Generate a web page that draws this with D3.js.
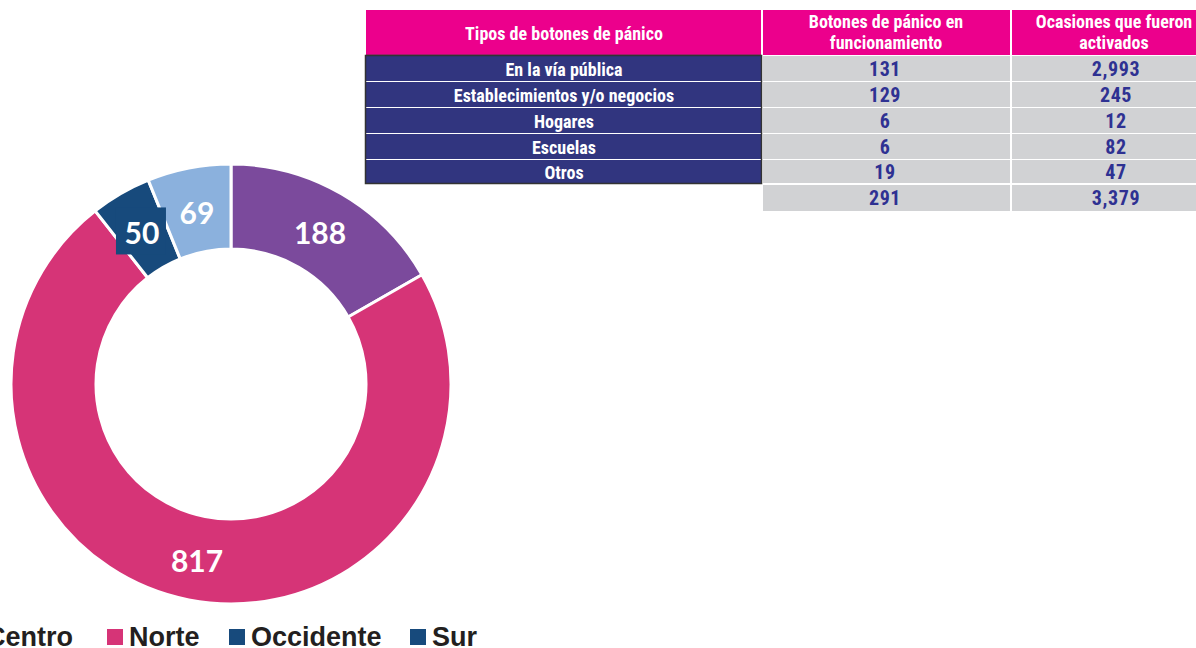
<!DOCTYPE html>
<html>
<head>
<meta charset="utf-8">
<script src="https://cdn.jsdelivr.net/npm/d3@7"></script>
<style>
  html, body { margin: 0; padding: 0; background: #fff; }
  svg { display: block; }
</style>
</head>
<body>
<svg id="chart" width="1196" height="648"></svg>
<script>
// ---- Data ----
const regions = ["Centro", "Norte", "Occidente", "Sur"];
const regionValues = [188, 817, 50, 69];
const sliceColors = ["#7B4A9C", "#D63477", "#174A7C", "#8BB1DD"];
const legendColors = ["#7B4A9C", "#D63477", "#174A7C", "#174A7C"];

const tableHeaders = ["Tipos de botones de pánico", "Botones de pánico en|funcionamiento", "Ocasiones que fueron|activados"];
const tipos = ["En la vía pública", "Establecimientos y/o negocios", "Hogares", "Escuelas", "Otros"];
const enFuncionamiento = [131, 129, 6, 6, 19];
const activados = [2993, 245, 12, 82, 47];
const totalFuncionamiento = 291;
const totalActivados = 3379;

// ---- Setup ----
const svg = d3.select("#chart");
const fmt = d3.format(",");

// ---- Donut ----
const cx = 231, cy = 384, R = 220, r = 135;
const g = svg.append("g").attr("transform", `translate(${cx},${cy})`);
const pie = d3.pie().sort(null).value(d => d.v);
const arcs = pie(regions.map((n, i) => ({ n, v: regionValues[i], i })));
const arc = d3.arc().innerRadius(r).outerRadius(R);
const labelArc = d3.arc().innerRadius((r + R) / 2).outerRadius((r + R) / 2);

g.selectAll("path.slice").data(arcs).join("path")
  .attr("class", "slice")
  .attr("d", arc)
  .attr("fill", d => sliceColors[d.data.i])
  .attr("stroke", "#fff")
  .attr("stroke-width", 3);

// label background box for the small slice (as in reference)
arcs.filter(d => d.data.n === "Occidente").forEach(d => {
  const [x, y] = labelArc.centroid(d);
  g.append("rect")
    .attr("x", x - 26).attr("y", y - 23)
    .attr("width", 50).attr("height", 47)
    .attr("fill", sliceColors[d.data.i]);
});

g.selectAll("text.lbl").data(arcs).join("text")
  .attr("class", "lbl")
  .attr("transform", d => { const [x, y] = labelArc.centroid(d); return `translate(${x},${y + 2})`; })
  .attr("text-anchor", "middle")
  .attr("dominant-baseline", "central")
  .attr("font-family", "Lato, 'Open Sans', sans-serif")
  .attr("font-weight", 700)
  .attr("font-size", 30)
  .attr("fill", "#fff")
  .text(d => d.data.v);

// ---- Legend ----
const legendY = 637;
const legendSquareX = [-36, 107, 229, 410];
const lg = svg.append("g");
regions.forEach((n, i) => {
  lg.append("rect")
    .attr("x", legendSquareX[i]).attr("y", legendY - 8)
    .attr("width", 16).attr("height", 16)
    .attr("fill", legendColors[i]);
  lg.append("text")
    .attr("x", legendSquareX[i] + 22).attr("y", legendY)
    .attr("dominant-baseline", "central")
    .attr("font-family", "'Liberation Sans', Arial, sans-serif")
    .attr("font-weight", 700)
    .attr("font-size", 27)
    .attr("fill", "#231F20")
    .text(n);
});

// ---- Table ----
const colX = [366, 763, 1012, 1210];
const numCenters = [885, 1116];
const headCenters = [564, 886, 1114];
const headTop = 10, headBottom = 55;
const rowTops = [56, 82, 108, 134, 160];
const totalTop = 185, totalBottom = 211;
const condensed = "'Liberation Sans Narrow', 'Roboto Condensed', 'Open Sans', sans-serif";
const tg = svg.append("g");

// header
tableHeaders.forEach((h, j) => {
  tg.append("rect")
    .attr("x", colX[j]).attr("y", headTop)
    .attr("width", colX[j + 1] - colX[j] - (j < 2 ? 2 : 0)).attr("height", headBottom - headTop)
    .attr("fill", "#EC008C");
  const lines = h.split("|");
  const t = tg.append("text")
    .attr("text-anchor", "middle")
    .attr("font-family", condensed)
    .attr("font-stretch", "condensed")
    .attr("font-weight", 700)
    .attr("font-size", 18)
    .attr("fill", "#fff");
  lines.forEach((l, k) => {
    const y = lines.length === 1 ? (headTop + headBottom) / 2 + 7 : headTop + 18 + k * 21;
    t.append("tspan").attr("x", headCenters[j]).attr("y", y).text(l);
  });
});
tg.append("line").attr("x1", colX[0]).attr("x2", colX[1] - 2)
  .attr("y1", headBottom + 0.5).attr("y2", headBottom + 0.5)
  .attr("stroke", "#555").attr("stroke-width", 1.5);

function numText(x, y, v) {
  tg.append("text").attr("x", x).attr("y", y)
    .attr("text-anchor", "middle").attr("font-family", condensed).attr("font-stretch", "condensed")
    .attr("font-weight", 700).attr("font-size", 20).attr("fill", "#2E3192")
    .attr("letter-spacing", 0.6)
    .text(fmt(v));
}

// data rows
tipos.forEach((tipo, i) => {
  const y0 = rowTops[i];
  const h = (i < tipos.length - 1 ? rowTops[i + 1] : 184) - y0 - 1;
  tg.append("rect").attr("x", colX[0]).attr("y", y0).attr("width", colX[1] - colX[0] - 2).attr("height", h).attr("fill", "#31357F");
  tg.append("rect").attr("x", colX[1]).attr("y", y0).attr("width", colX[2] - colX[1] - 2).attr("height", h).attr("fill", "#D1D2D4");
  tg.append("rect").attr("x", colX[2]).attr("y", y0).attr("width", colX[3] - colX[2]).attr("height", h).attr("fill", "#D1D2D4");
  const ty = y0 + h / 2 + 7;
  tg.append("text").attr("x", headCenters[0]).attr("y", ty)
    .attr("text-anchor", "middle").attr("font-family", condensed).attr("font-stretch", "condensed")
    .attr("font-weight", 700).attr("font-size", 18).attr("fill", "#fff").text(tipo);
  numText(numCenters[0], ty, enFuncionamiento[i]);
  numText(numCenters[1], ty, activados[i]);
});
// border around navy column
tg.append("rect").attr("x", colX[0] - 0.5).attr("y", rowTops[0] - 0.5)
  .attr("width", colX[1] - colX[0] - 1).attr("height", 184 - rowTops[0])
  .attr("fill", "none").attr("stroke", "#333").attr("stroke-width", 1.5);

// total row
tg.append("rect").attr("x", colX[1]).attr("y", totalTop).attr("width", colX[2] - colX[1] - 2).attr("height", totalBottom - totalTop).attr("fill", "#D1D2D4");
tg.append("rect").attr("x", colX[2]).attr("y", totalTop).attr("width", colX[3] - colX[2]).attr("height", totalBottom - totalTop).attr("fill", "#D1D2D4");
const tty = (totalTop + totalBottom) / 2 + 7;
numText(numCenters[0], tty, totalFuncionamiento);
numText(numCenters[1], tty, totalActivados);
</script>
</body>
</html>
